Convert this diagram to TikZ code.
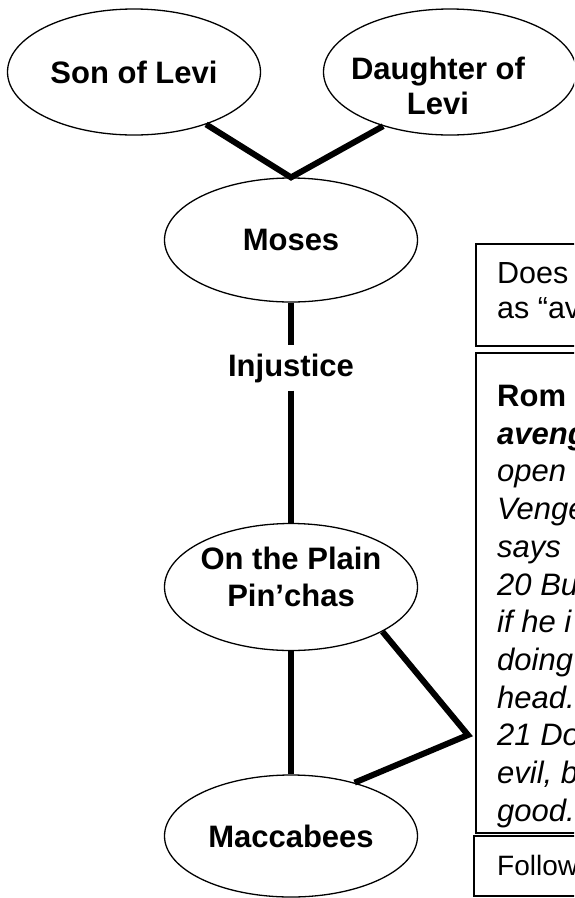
\documentclass[tikz,border=0pt]{standalone}
\usepackage{fontspec}
\setmainfont{Liberation Sans}
\usetikzlibrary{shapes.geometric}

\begin{document}
\begin{tikzpicture}[x=1pt,y=-1pt,
  oval/.style={ellipse,draw,line width=1.3pt,inner sep=0pt,minimum width=253pt,minimum height=126pt},
  word/.style={inner sep=0pt,align=center,font=\fontsize{31}{35}\selectfont\bfseries},
  link/.style={line width=6pt},
  note/.style={draw,line width=1.5pt}]
\useasboundingbox (0,0) rectangle (574,898);
\clip (0,0) rectangle (574,898);

\node (son) [oval,word] at (134,72) {Son of Levi};
\node (daughter) [oval] at (450,72) {};
\node (daughterText) [word] at (438,86) {Daughter of\\Levi};
\node (moses) [oval,word,minimum height=124pt] at (291,240) {Moses};
\node (injustice) [word,inner sep=8pt] at (291,368) {Injustice};
\node (pinchas) [oval,minimum height=127pt] at (291,587) {};
\node (pinchasText) [word,font=\fontsize{31}{37}\selectfont\bfseries] at (291,577) {On the Plain\\Pin’chas};
\node (maccabees) [oval,word,minimum height=122pt] at (291,836) {Maccabees};
\coordinate (bend) at (468,735);

\draw [link] (son.-36) -- (moses.north) -- (daughter.-141);
\draw [link] (moses) -- (injustice);
\draw [link] (injustice) -- (pinchas);
\draw [link] (pinchas) -- (maccabees);
\draw [link] (pinchas.-26) -- (bend) -- (maccabees.40);

\draw [note] (476,244) rectangle (620,346);
\node (question) [anchor=north west,inner sep=0pt,align=left,font=\fontsize{30.5}{35}\selectfont] at (497,262) {Does\\as “av};

\draw [note] (476,353) rectangle (620,833);
\node (verse) [anchor=north west,inner sep=0pt,align=left,font=\fontsize{31}{37.7}\selectfont\itshape] at (497,385) {
\textup{\textbf{Rom}}\\
\textbf{aveng}\\
open\\
Venge\\
says\\
20 Bu\\
if he i\\
doing\\
head.\\
21 Do\\
evil, b\\
good.};

\draw [note] (474,836) rectangle (620,896);
\node (follow) [anchor=north west,inner sep=0pt,font=\fontsize{28}{33}\selectfont] at (497,855) {Follow};
\end{tikzpicture}
\end{document}
